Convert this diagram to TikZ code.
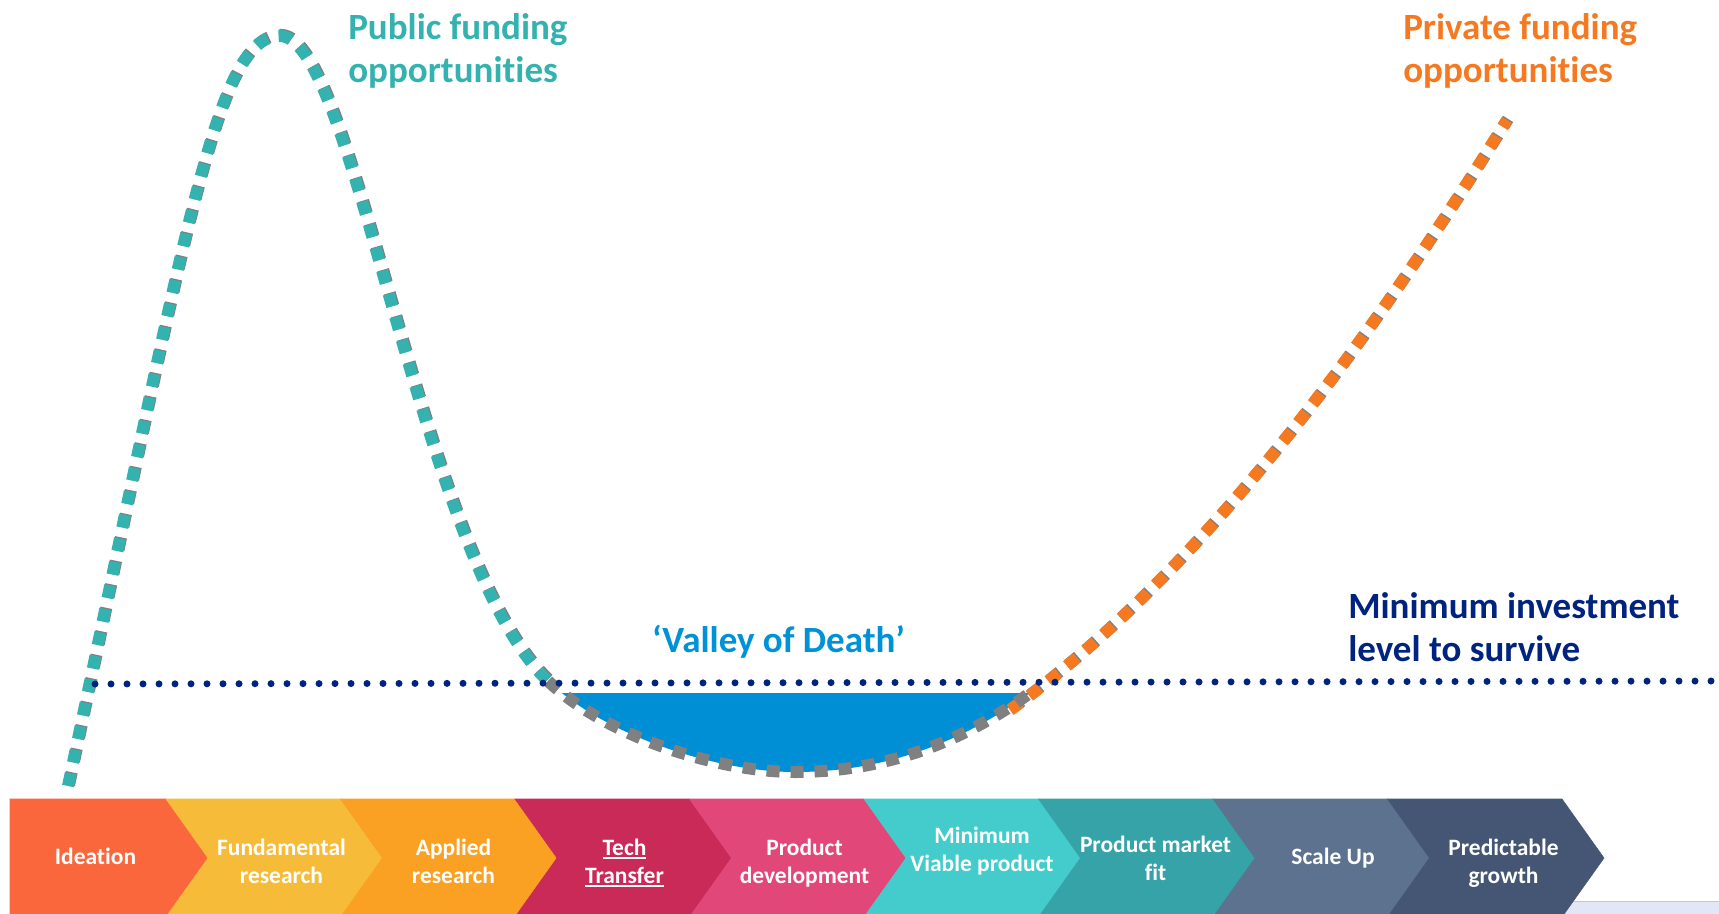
\documentclass[tikz,border=0pt]{standalone}
\usepackage{fontspec}
\setmainfont{Carlito}[Ligatures={NoCommon}]
\definecolor{publicteal}{RGB}{51,178,176}
\definecolor{privateorange}{RGB}{245,121,32}
\definecolor{valleygray}{RGB}{128,128,128}
\definecolor{valleyblue}{RGB}{0,143,213}
\definecolor{levelnavy}{RGB}{0,35,128}
\newcommand{\stageul}[1]{\leavevmode\vtop{\hbox{#1}\kern1.6pt\hrule height 1.5pt}}

\begin{document}
\begin{tikzpicture}[x=0.75pt,y=0.75pt,yscale=-1,xscale=1,
  fund/.style={line width=9pt, dash pattern=on 9.75pt off 8.25pt},
  fundshade/.style={fund, color=valleygray, xshift=0.8pt, yshift=-0.8pt},
  steplabel/.style={inner sep=0.75pt, align=center, text=white, font=\fontsize{17.6}{21}\selectfont\bfseries},
  biglabel/.style={inner sep=0.75pt, align=left, font=\fontsize{27.75}{32.6}\selectfont\bfseries}]
\useasboundingbox (0,0) rectangle (1719,913);

%strip at the bottom right
\draw [color={rgb, 255:red, 190; green, 198; blue, 232 }, fill={rgb, 255:red, 226; green, 230; blue, 246 }] (1560,901) rectangle (1719,920) ;

%stage arrows
\draw [color={rgb, 255:red, 250; green, 103; blue, 60 }, fill={rgb, 255:red, 250; green, 103; blue, 60 }] (10,799) -- (166,799) -- (208,858) -- (166,917) -- (10,917) -- cycle ;
\draw [color={rgb, 255:red, 247; green, 187; blue, 58 }, fill={rgb, 255:red, 247; green, 187; blue, 58 }] (166,799) -- (340.5,799) -- (382.5,858) -- (340.5,917) -- (166,917) -- (208,858) -- cycle ;
\draw [color={rgb, 255:red, 250; green, 160; blue, 35 }, fill={rgb, 255:red, 250; green, 160; blue, 35 }] (340.5,799) -- (515,799) -- (557,858) -- (515,917) -- (340.5,917) -- (382.5,858) -- cycle ;
\draw [color={rgb, 255:red, 202; green, 42; blue, 88 }, fill={rgb, 255:red, 202; green, 42; blue, 88 }] (515,799) -- (689.5,799) -- (731.5,858) -- (689.5,917) -- (515,917) -- (557,858) -- cycle ;
\draw [color={rgb, 255:red, 226; green, 71; blue, 122 }, fill={rgb, 255:red, 226; green, 71; blue, 122 }] (689.5,799) -- (864,799) -- (906,858) -- (864,917) -- (689.5,917) -- (731.5,858) -- cycle ;
\draw [color={rgb, 255:red, 68; green, 204; blue, 204 }, fill={rgb, 255:red, 68; green, 204; blue, 204 }] (864,799) -- (1038.5,799) -- (1080.5,858) -- (1038.5,917) -- (864,917) -- (906,858) -- cycle ;
\draw [color={rgb, 255:red, 54; green, 163; blue, 168 }, fill={rgb, 255:red, 54; green, 163; blue, 168 }] (1038.5,799) -- (1213,799) -- (1255,858) -- (1213,917) -- (1038.5,917) -- (1080.5,858) -- cycle ;
\draw [color={rgb, 255:red, 92; green, 114; blue, 142 }, fill={rgb, 255:red, 92; green, 114; blue, 142 }] (1213,799) -- (1387.5,799) -- (1429.5,858) -- (1387.5,917) -- (1213,917) -- (1255,858) -- cycle ;
\draw [color={rgb, 255:red, 68; green, 86; blue, 116 }, fill={rgb, 255:red, 68; green, 86; blue, 116 }] (1387.5,799) -- (1562,799) -- (1604,858) -- (1562,917) -- (1387.5,917) -- (1429.5,858) -- cycle ;

\draw (95.5,864) node (ideation) [steplabel] [anchor=base] {Ideation};
\draw (281.5,883) node (fundamental) [steplabel] [anchor=base] {Fundamental\\research};
\draw (453.5,883) node (applied) [steplabel] [anchor=base] {Applied\\research};
\draw (624.5,883) node (transfer) [steplabel] [anchor=base] {\stageul{Tech}\\\stageul{Transfer}};
\draw (804.5,883) node (development) [steplabel] [anchor=base] {Product\\development};
\draw (982,871) node (viable) [steplabel] [anchor=base] {Minimum\\Viable product};
\draw (1155.5,880) node (marketfit) [steplabel] [anchor=base] {Product market\\fit};
\draw (1333,864) node (scaleup) [steplabel] [anchor=base] {Scale Up};
\draw (1503.5,883) node (growth) [steplabel] [anchor=base] {Predictable\\growth};

%valley area
\begin{scope}
\clip (0,693) rectangle (1719,800);
\fill [color=valleyblue] (548,681) .. controls (608,738) and (720,772) .. (795,772) .. controls (880,772) and (960,745) .. (1034,690) -- cycle ;
\end{scope}

%public funding curve
\draw [fundshade] (68,786) .. controls (187,226) and (215,36) .. (280,36) .. controls (355,36) and (420,560) .. (548,681) ;
\draw [fund, color=publicteal] (68,786) .. controls (187,226) and (215,36) .. (280,36) .. controls (355,36) and (420,560) .. (548,681) ;
%private funding curve
\draw [fundshade] (1010,710) .. controls (1230,552) and (1407,280) .. (1507,120) ;
\draw [fund, color=privateorange] (1010,710) .. controls (1230,552) and (1407,280) .. (1507,120) ;
%valley curve
\draw [fund, color=valleygray] (548,681) .. controls (608,738) and (720,772) .. (795,772) .. controls (880,772) and (960,745) .. (1034,690) ;

%minimum level
\draw [color=levelnavy, line width=5.25pt, line cap=round, dash pattern=on 0pt off 12pt] (95,684) -- (1719,681) ;

\draw (347,82.5) node (public) [biglabel] [anchor=base west] [text=publicteal] {Public funding\\opportunities};
\draw (1402,82.5) node (private) [biglabel] [anchor=base west] [text=privateorange] {Private funding\\opportunities};
\draw (1347,661.5) node (minimum) [biglabel] [anchor=base west] [text=levelnavy] {Minimum investment\\level to survive};
\draw (778.5,652) node (valley) [biglabel] [anchor=base] [text={rgb, 255:red, 0; green, 146; blue, 214 }] {‘Valley of Death’};
\end{tikzpicture}
\end{document}
